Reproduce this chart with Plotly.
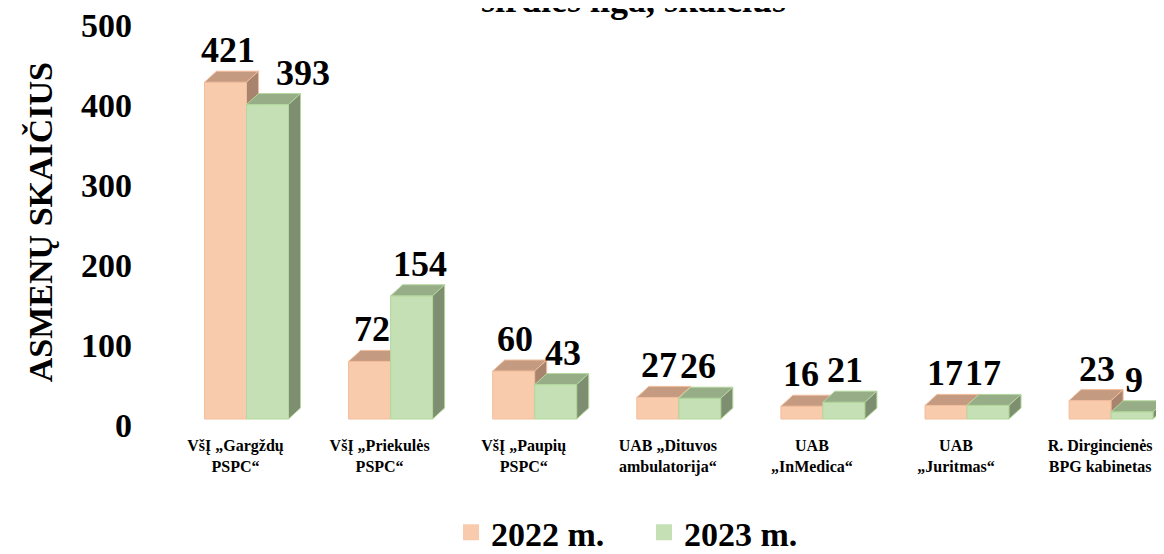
import plotly.graph_objects as go

# ---- data ----
categories = [
    "VšĮ „Gargždų\nPSPC“",
    "VšĮ „Priekulės\nPSPC“",
    "VšĮ „Paupių\nPSPC“",
    "UAB „Dituvos\nambulatorija“",
    "UAB\n„InMedica“",
    "UAB\n„Juritmas“",
    "R. Dirgincienės\nBPG kabinetas",
]
values_2022 = [421, 72, 60, 27, 16, 17, 23]
values_2023 = [393, 154, 43, 26, 21, 17, 9]
series_names = ["2022 m.", "2023 m."]
y_ticks = [0, 100, 200, 300, 400, 500]
y_title = "ASMENŲ SKAIČIUS"
chart_title = "širdies liga, skaičius"

# ---- style ----
FONT = "Liberation Serif, Times New Roman, serif"
BAR_W = 0.2915      # width of one bar (category units)
DX = 0.0833         # 3D depth offset, x (category units)
DY = 13.75          # 3D depth offset, y (value units)
styles = [
    dict(front="#F8CBAD", top="#C49A81", side="#A8836D", edge="#F3BE9C"),
    dict(front="#C5E0B4", top="#97AD87", side="#7E8E70", edge="#B3D89C"),
]
label_dx = [[2, 2, 1, 1, -1, -1, 7], [35, 8, 7, -2, 1, -5, 2]]

fig = go.Figure()

def add_series(vals, offset, st):
    fx, fy, tx, ty, sx, sy = [], [], [], [], [], []
    for i, v in enumerate(vals):
        x0 = i + offset
        x1 = x0 + BAR_W
        fx += [x0, x1, x1, x0, x0, None]
        fy += [0, 0, v, v, 0, None]
        tx += [x0, x1, x1 + DX, x0 + DX, x0, None]
        ty += [v, v, v + DY, v + DY, v, None]
        sx += [x1, x1 + DX, x1 + DX, x1, x1, None]
        sy += [0, DY, v + DY, v, 0, None]
    for xs, ys, col in ((fx, fy, st["front"]), (tx, ty, st["top"]), (sx, sy, st["side"])):
        fig.add_trace(go.Scatter(
            x=xs, y=ys, mode="lines", fill="toself", fillcolor=col,
            line=dict(color=st["edge"], width=1), showlegend=False, hoverinfo="skip"))

all_vals = [values_2022, values_2023]
offsets = [-BAR_W, 0.0]
for s in range(2):
    add_series(all_vals[s], offsets[s], styles[s])

# legend entries
for s in range(2):
    fig.add_trace(go.Scatter(
        x=[None], y=[None], mode="markers", name=series_names[s],
        marker=dict(symbol="square", size=16, color=styles[s]["front"])))

annotations = []
for s in range(2):
    for i, v in enumerate(all_vals[s]):
        annotations.append(dict(
            x=i + offsets[s] + BAR_W / 2, y=v, xref="x", yref="y",
            text=str(v), showarrow=False, yanchor="middle", xanchor="center",
            yshift=32, xshift=label_dx[s][i],
            font=dict(family=FONT, size=36, color="black", weight="bold")))

annotations.append(dict(
    x=0, xref="paper", xshift=-110, y=246, yref="y", text=y_title, textangle=-90,
    showarrow=False, xanchor="center", yanchor="middle",
    font=dict(family=FONT, size=34, color="black", weight="bold")))

annotations.append(dict(
    x=0.4773, xref="paper", y=1.023, yref="paper", text=chart_title,
    showarrow=False, xanchor="center", yanchor="middle",
    font=dict(family=FONT, size=36, color="black", weight="bold")))

fig.update_layout(
    width=1164, height=554, autosize=False,
    margin=dict(l=142, r=8, t=2, b=132),
    paper_bgcolor="white", plot_bgcolor="white",
    annotations=annotations,
    showlegend=True,
    legend=dict(orientation="h", xref="container", yref="container",
                x=0.3806, xanchor="left", y=0.053, yanchor="middle",
                font=dict(family=FONT, size=34, color="black", weight="bold"),
                entrywidth=148, entrywidthmode="pixels", bgcolor="rgba(0,0,0,0)"),
    xaxis=dict(range=[-0.6697, 6.367], tickvals=list(range(len(categories))),
               ticktext=[c.replace("\n", "<br>") for c in categories],
               showgrid=False, zeroline=False, showline=False, ticks="",
               automargin=False, ticklabeloverflow="allow",
               ticklabelshift=-11, ticklabelstandoff=4,
               tickfont=dict(family=FONT, size=16, color="black", weight="bold")),
    yaxis=dict(range=[-13.75, 511.25], tickvals=y_ticks,
               showgrid=False, zeroline=False, showline=False, ticks="",
               automargin=False, ticklabeloverflow="allow",
               ticklabelshift=6, ticklabelstandoff=17,
               tickfont=dict(family=FONT, size=34, color="black", weight="bold")),
)

fig.write_html("out.html")
